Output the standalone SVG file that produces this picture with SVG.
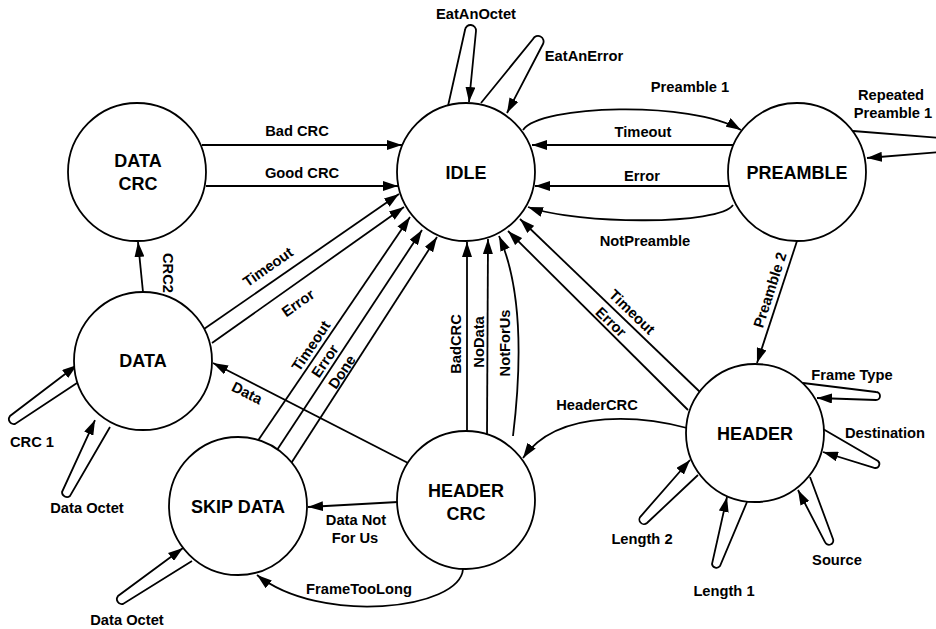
<svg xmlns="http://www.w3.org/2000/svg" width="936" height="629" viewBox="0 0 936 629">
<style>
.n{fill:#fff;stroke:#000;stroke-width:1.8}
.nt{font-family:"Liberation Sans",Arial,sans-serif;font-weight:bold;font-size:18px;text-anchor:middle;fill:#000}
.e{fill:none;stroke:#000;stroke-width:1.8;marker-end:url(#a)}
.l{font-family:"Liberation Sans",Arial,sans-serif;font-weight:bold;font-size:14.7px;text-anchor:middle;fill:#000}
</style>
<defs>
<marker id="a" markerWidth="15" markerHeight="10" refX="15" refY="5" orient="auto" markerUnits="userSpaceOnUse"><path d="M0,0 L15,5 L0,10 z" fill="#000"/></marker>
</defs>
<rect width="936" height="629" fill="#fff"/>
<g id="connectors">
<path class="e" d="M202,145 L402,145"/>
<path class="e" d="M206,186 L398,186"/>
<path class="e" d="M143,292 L138,242"/>
<path class="e" d="M204,329 L399,194"/>
<path class="e" d="M212,343 L404,207"/>
<path class="e" d="M257,442 L410,217"/>
<path class="e" d="M277,450 L422,230"/>
<path class="e" d="M290,465 L437,237"/>
<path class="e" d="M408,463 L213,363"/>
<path class="e" d="M467,432 L467,242"/>
<path class="e" d="M487,435 L488,239"/>
<path class="e" d="M513,436 C521,370 523,290 499,236"/>
<path class="e" d="M700,392 L520,219"/>
<path class="e" d="M688,410 L508,231"/>
<path class="e" d="M523,130 C540,105 690,100 741,130"/>
<path class="e" d="M733,145 L532,145"/>
<path class="e" d="M730,186 L535,186"/>
<path class="e" d="M733,205 C720,225 580,225 528,207"/>
<path class="e" d="M853,131 L940,138 A7,7 0 0 1 940,152 L867,158"/>
<path class="e" d="M797,241 L757,363"/>
<path class="e" d="M687,428 C650,418 560,405 523,458"/>
<path class="e" d="M398,502 L308,507"/>
<path class="e" d="M463,569 C460,610 320,625 257,575"/>
<path class="e" d="M448,106 L465,30 A5.5,5.5 0 0 1 476,31 L469,102"/>
<path class="e" d="M481,103 L533,39 A5.5,5.5 0 0 1 543,44 L507,113"/>
<path class="e" d="M77,383 L15,424 A5,5 0 0 1 10,416 L77,365"/>
<path class="e" d="M110,427 L70,496 A5,5 0 0 1 62,492 L95,420"/>
<path class="e" d="M192,561 L123,604 A5,5 0 0 1 118,596 L183,548"/>
<path class="e" d="M803,383 L876,392 A4,4 0 0 1 876,400 L817,398"/>
<path class="e" d="M823,429 L878,461 A4,4 0 0 1 875,468 L823,452"/>
<path class="e" d="M810,477 L833,539 A4,4 0 0 1 825,542 L798,490"/>
<path class="e" d="M747,502 L720,566 A4.5,4.5 0 0 1 712,564 L727,497"/>
<path class="e" d="M698,475 L647,523 A4.5,4.5 0 0 1 641,516 L690,460"/>
</g>
<g id="edge-labels">
<text class="l" x="476" y="19">EatAnOctet</text>
<text class="l" x="584" y="61">EatAnError</text>
<text class="l" x="690" y="92">Preamble 1</text>
<text class="l" x="891" y="100">Repeated</text>
<text class="l" x="893" y="118">Preamble 1</text>
<text class="l" x="643" y="137">Timeout</text>
<text class="l" x="642" y="181">Error</text>
<text class="l" x="645" y="246">NotPreamble</text>
<text class="l" x="297" y="136">Bad CRC</text>
<text class="l" x="302" y="178">Good CRC</text>
<text class="l" transform="translate(168,273) rotate(90)" y="5">CRC2</text>
<text class="l" transform="translate(268,267) rotate(-35)" y="5">Timeout</text>
<text class="l" transform="translate(298,303) rotate(-35)" y="5">Error</text>
<text class="l" transform="translate(311,346) rotate(-56)" y="5">Timeout</text>
<text class="l" transform="translate(325,361) rotate(-56)" y="5">Error</text>
<text class="l" transform="translate(342,372) rotate(-56)" y="5">Done</text>
<text class="l" transform="translate(247,393) rotate(27)" y="5">Data</text>
<text class="l" transform="translate(456,344) rotate(-90)" y="5">BadCRC</text>
<text class="l" transform="translate(479,342) rotate(-90)" y="5">NoData</text>
<text class="l" transform="translate(505,343) rotate(-90)" y="5">NotForUs</text>
<text class="l" transform="translate(632,312) rotate(44)" y="5">Timeout</text>
<text class="l" transform="translate(611,322) rotate(44)" y="5">Error</text>
<text class="l" transform="translate(770,290) rotate(-72)" y="5">Preamble 2</text>
<text class="l" x="597" y="410">HeaderCRC</text>
<text class="l" x="852" y="380">Frame Type</text>
<text class="l" x="885" y="438">Destination</text>
<text class="l" x="837" y="565">Source</text>
<text class="l" x="724" y="596">Length 1</text>
<text class="l" x="642" y="544">Length 2</text>
<text class="l" x="32" y="447">CRC 1</text>
<text class="l" x="87" y="513">Data Octet</text>
<text class="l" x="127" y="625">Data Octet</text>
<text class="l" x="356" y="525">Data Not</text>
<text class="l" x="355" y="543">For Us</text>
<text class="l" x="359" y="594">FrameTooLong</text>
</g>
<g id="idle"><circle class="n" cx="466" cy="172" r="69"/><text class="nt" x="466" y="179">IDLE</text></g>
<g id="preamble"><circle class="n" cx="797" cy="172" r="69"/><text class="nt" x="797" y="179">PREAMBLE</text></g>
<g id="data-crc"><circle class="n" cx="137" cy="172" r="69"/><text class="nt" x="138" y="167">DATA</text><text class="nt" x="138" y="190">CRC</text></g>
<g id="data"><circle class="n" cx="143" cy="361" r="69"/><text class="nt" x="143" y="367">DATA</text></g>
<g id="skip-data"><circle class="n" cx="238" cy="506" r="69"/><text class="nt" x="238" y="513">SKIP DATA</text></g>
<g id="header-crc"><circle class="n" cx="466" cy="500" r="69"/><text class="nt" x="466" y="497">HEADER</text><text class="nt" x="466" y="520">CRC</text></g>
<g id="header"><circle class="n" cx="755" cy="433" r="69"/><text class="nt" x="755" y="440">HEADER</text></g>
</svg>
